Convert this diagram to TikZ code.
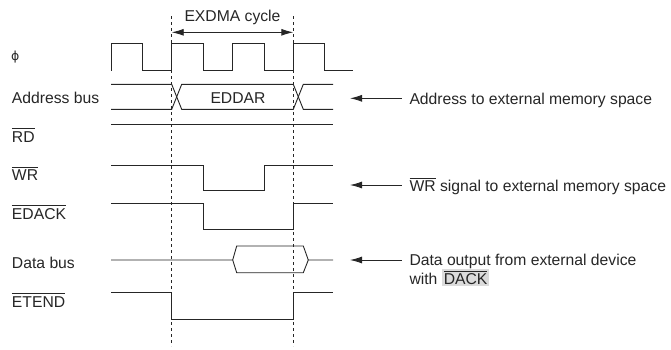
\documentclass[tikz,border=0pt]{standalone}
\usepackage{fontspec}
\setmainfont{Liberation Sans}
\newfontfamily\phifont{DejaVu Sans}
\usetikzlibrary{arrows.meta}
\newcommand\ovl[1]{\vbox{\hrule height 0.8pt\kern 2pt\hbox{#1}}}
\definecolor{hl}{gray}{0.86}
\definecolor{ink}{gray}{0.15}
\begin{document}
\begin{tikzpicture}[x=1pt,y=-1pt,
  txt/.style={inner sep=0pt,outer sep=0pt,anchor=base west,text=ink,font=\fontsize{15.7}{18.5}\selectfont},
  sig/.style={draw=ink,line width=0.9pt},
  guide/.style={draw=ink,line width=0.8pt,dash pattern=on 3pt off 3pt},
  pointer/.style={draw=ink,line width=0.9pt,-{Latex[length=12pt,width=7pt]}},
  span/.style={draw=ink,line width=0.9pt,{Latex[length=12pt,width=7pt]}-{Latex[length=12pt,width=7pt]}}]
\useasboundingbox (0,0) rectangle (671,349);
% guides
\coordinate (g1t) at (171.7,16); \coordinate (g1b) at (171.7,346);
\coordinate (g2t) at (293.3,16); \coordinate (g2b) at (293.3,346);
\draw[guide] (g1t) -- (g1b);
\draw[guide] (g2t) -- (g2b);
\coordinate (cycL) at (171.7,32.3); \coordinate (cycR) at (293.3,32.3);
\draw[span] (cycL) -- (cycR);
\node[txt,anchor=base] (cyc) at (232.5,21.7) {EXDMA cycle};
% left labels
\node[inner sep=0pt,anchor=west,text=ink,font=\phifont\fontsize{12.5}{14}\selectfont] (lphi) at (11,57) {ϕ};
\node[txt] (laddr) at (12,103.3) {Address bus};
\node[txt] (lrd) at (12,142) {\ovl{RD}};
\node[txt] (lwr) at (12,180.5) {\ovl{WR}};
\node[txt] (ledack) at (12,219) {\ovl{EDACK}};
\node[txt] (ldata) at (12,268) {Data bus};
\node[txt] (letend) at (12,307) {\ovl{ETEND}};
% clock
\draw[sig] (111,70.7) -- (111,43.3) -- (142.3,43.3) -- (142.3,70.7) -- (171.7,70.7) -- (171.7,43.3)
  -- (203.3,43.3) -- (203.3,70.7) -- (232.7,70.7) -- (232.7,43.3) -- (264.3,43.3) -- (264.3,70.7)
  -- (293.3,70.7) -- (293.3,43.3) -- (324.3,43.3) -- (324.3,70.7) -- (353.3,70.7);
% address bus
\draw[sig] (111,84.3) -- (171.7,84.3) -- (181.7,109.3) -- (293.3,109.3) -- (303.3,84.3) -- (333,84.3);
\draw[sig] (111,109.3) -- (171.7,109.3) -- (181.7,84.3) -- (293.3,84.3) -- (303.3,109.3) -- (333,109.3);
\node[txt,anchor=base] (eddar) at (238,103.3) {EDDAR};
% RD
\draw[sig] (111,124.3) -- (333,124.3);
% WR
\draw[sig] (111,165) -- (203,165) -- (203,190.7) -- (264,190.7) -- (264,165) -- (333,165);
% EDACK
\draw[sig] (111,203.7) -- (203,203.7) -- (203,229.3) -- (293.3,229.3) -- (293.3,203.7) -- (333,203.7);
% data bus
\draw[sig] (111,260) -- (232.7,260) -- (236.7,246) -- (303.3,246) -- (308.3,260) -- (333,260);
\draw[sig] (232.7,260) -- (236.7,272.7) -- (303.3,272.7) -- (308.3,260);
% ETEND
\draw[sig] (111,292.7) -- (171.7,292.7) -- (171.7,319.3) -- (293.3,319.3) -- (293.3,292.7) -- (333,292.7);
% right annotations
\node[txt] (taddr) at (409.5,104) {Address to external memory space};
\coordinate (aaddrS) at (401.7,98.3); \coordinate (aaddrE) at (350,98.3);
\draw[pointer] (aaddrS) -- (aaddrE);
\node[txt] (twr) at (409.5,191.5) {\ovl{WR} signal to external memory space};
\coordinate (awrS) at (401.7,185); \coordinate (awrE) at (350,185);
\draw[pointer] (awrS) -- (awrE);
\node[txt] (tdata1) at (409.5,265.7) {Data output from external device};
\node[txt] (tdata2) at (409.5,284.3) {with {\setlength{\fboxsep}{2pt}\colorbox{hl}{\ovl{DACK}}}};
\coordinate (adataS) at (401.7,260); \coordinate (adataE) at (350,260);
\draw[pointer] (adataS) -- (adataE);
\end{tikzpicture}
\end{document}
